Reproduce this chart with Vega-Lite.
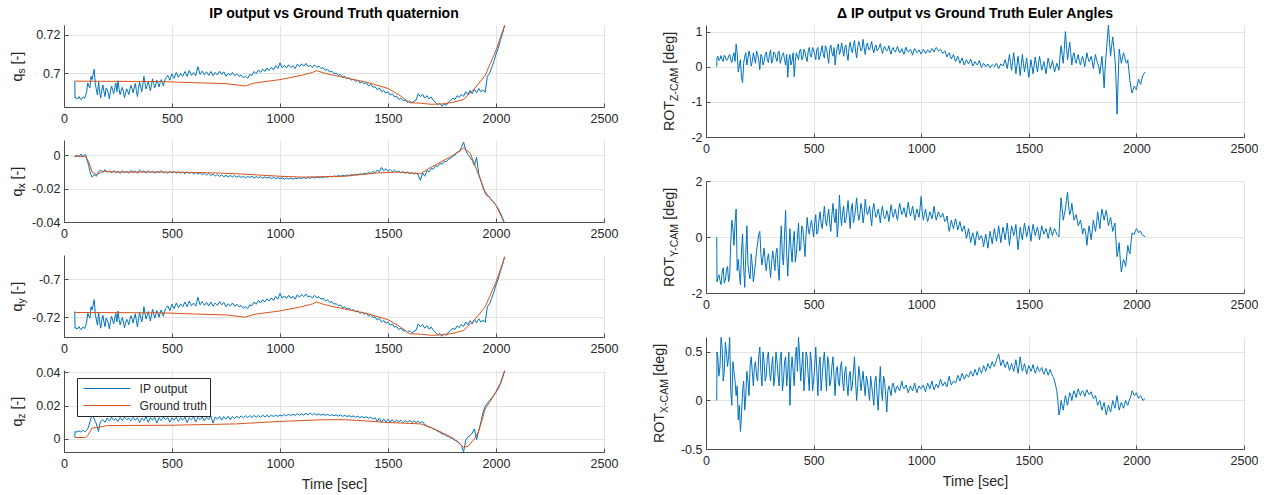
{
"$schema":"https://vega.github.io/schema/vega-lite/v6.json",
"padding":{"left":10,"top":7,"right":0,"bottom":0},
"datasets":{
"ip":[
{"t":50,"s":0.696,"x":-0.0005,"y":-0.717,"z":0.001},
{"t":51,"s":0.6872,"x":-0.001,"y":-0.7258,"z":0.0045},
{"t":60,"s":0.6868,"x":0.0003,"y":-0.7262,"z":0.004},
{"t":70,"s":0.688,"x":-0.0008,"y":-0.725,"z":0.0048},
{"t":80,"s":0.6865,"x":0.0008,"y":-0.7265,"z":0.0042},
{"t":90,"s":0.6878,"x":-0.0002,"y":-0.7252,"z":0.005},
{"t":100,"s":0.6884,"x":0.0005,"y":-0.7246,"z":0.0045},
{"t":110,"s":0.695,"x":-0.004,"y":-0.718,"z":0.006},
{"t":120,"s":0.6925,"x":-0.0095,"y":-0.7205,"z":0.01},
{"t":130,"s":0.6968,"x":-0.013,"y":-0.7162,"z":0.0145},
{"t":140,"s":0.7022,"x":-0.0115,"y":-0.7108,"z":0.012},
{"t":150,"s":0.6915,"x":-0.0125,"y":-0.7215,"z":0.009},
{"t":160,"s":0.6958,"x":-0.0098,"y":-0.7172,"z":0.0045},
{"t":170,"s":0.6872,"x":-0.0088,"y":-0.7258,"z":0.0105},
{"t":180,"s":0.694,"x":-0.0102,"y":-0.719,"z":0.0115},
{"t":190,"s":0.688,"x":-0.0085,"y":-0.725,"z":0.01},
{"t":200,"s":0.6915,"x":-0.01,"y":-0.7215,"z":0.0125},
{"t":210,"s":0.6868,"x":-0.0092,"y":-0.7262,"z":0.0108},
{"t":220,"s":0.6935,"x":-0.0105,"y":-0.7195,"z":0.013},
{"t":230,"s":0.6895,"x":-0.009,"y":-0.7235,"z":0.0112},
{"t":240,"s":0.695,"x":-0.0102,"y":-0.718,"z":0.0122},
{"t":250,"s":0.6962,"x":-0.0095,"y":-0.7168,"z":0.0105},
{"t":260,"s":0.689,"x":-0.0108,"y":-0.724,"z":0.0128},
{"t":270,"s":0.6928,"x":-0.0092,"y":-0.7202,"z":0.011},
{"t":280,"s":0.6875,"x":-0.0103,"y":-0.7255,"z":0.0132},
{"t":290,"s":0.692,"x":-0.0096,"y":-0.721,"z":0.0115},
{"t":300,"s":0.689,"x":-0.0106,"y":-0.724,"z":0.0125},
{"t":310,"s":0.6938,"x":-0.009,"y":-0.7192,"z":0.0108},
{"t":320,"s":0.69,"x":-0.0101,"y":-0.723,"z":0.013},
{"t":330,"s":0.6948,"x":-0.0094,"y":-0.7182,"z":0.0112},
{"t":340,"s":0.688,"x":-0.0107,"y":-0.725,"z":0.0127},
{"t":350,"s":0.6955,"x":-0.0088,"y":-0.7175,"z":0.0098},
{"t":360,"s":0.6905,"x":-0.01,"y":-0.7225,"z":0.0125},
{"t":370,"s":0.6985,"x":-0.0093,"y":-0.7145,"z":0.011},
{"t":380,"s":0.692,"x":-0.0105,"y":-0.721,"z":0.0135},
{"t":390,"s":0.696,"x":-0.0091,"y":-0.717,"z":0.01},
{"t":400,"s":0.691,"x":-0.0102,"y":-0.722,"z":0.0128},
{"t":410,"s":0.6972,"x":-0.0095,"y":-0.7158,"z":0.0112},
{"t":420,"s":0.6925,"x":-0.0107,"y":-0.7205,"z":0.013},
{"t":430,"s":0.6965,"x":-0.0096,"y":-0.7165,"z":0.0095},
{"t":440,"s":0.693,"x":-0.0103,"y":-0.72,"z":0.0127},
{"t":450,"s":0.6968,"x":-0.0092,"y":-0.7162,"z":0.011},
{"t":460,"s":0.6935,"x":-0.0105,"y":-0.7195,"z":0.0132},
{"t":470,"s":0.6975,"x":-0.0098,"y":-0.7155,"z":0.0115},
{"t":480,"s":0.699,"x":-0.0108,"y":-0.714,"z":0.0128},
{"t":490,"s":0.6965,"x":-0.0096,"y":-0.7165,"z":0.01},
{"t":500,"s":0.6998,"x":-0.0104,"y":-0.7132,"z":0.0126},
{"t":510,"s":0.6975,"x":-0.0097,"y":-0.7155,"z":0.0112},
{"t":520,"s":0.7005,"x":-0.0107,"y":-0.7125,"z":0.013},
{"t":530,"s":0.698,"x":-0.0098,"y":-0.715,"z":0.0105},
{"t":540,"s":0.7,"x":-0.0106,"y":-0.713,"z":0.0128},
{"t":550,"s":0.6985,"x":-0.01,"y":-0.7145,"z":0.0114},
{"t":560,"s":0.701,"x":-0.011,"y":-0.712,"z":0.0131},
{"t":570,"s":0.6985,"x":-0.0099,"y":-0.7145,"z":0.0098},
{"t":580,"s":0.7015,"x":-0.0108,"y":-0.7115,"z":0.0127},
{"t":590,"s":0.699,"x":-0.0101,"y":-0.714,"z":0.0115},
{"t":600,"s":0.7005,"x":-0.0112,"y":-0.7125,"z":0.0133},
{"t":610,"s":0.6988,"x":-0.0102,"y":-0.7142,"z":0.0102},
{"t":620,"s":0.7035,"x":-0.0111,"y":-0.7095,"z":0.0129},
{"t":630,"s":0.6995,"x":-0.0104,"y":-0.7135,"z":0.0116},
{"t":640,"s":0.7012,"x":-0.0115,"y":-0.7118,"z":0.0132},
{"t":650,"s":0.6992,"x":-0.0106,"y":-0.7138,"z":0.0108},
{"t":660,"s":0.7008,"x":-0.0118,"y":-0.7122,"z":0.013},
{"t":670,"s":0.699,"x":-0.0108,"y":-0.714,"z":0.0117},
{"t":680,"s":0.701,"x":-0.0121,"y":-0.712,"z":0.0138},
{"t":690,"s":0.6988,"x":-0.0112,"y":-0.7142,"z":0.0095},
{"t":700,"s":0.7005,"x":-0.0124,"y":-0.7125,"z":0.0132},
{"t":710,"s":0.6992,"x":-0.0114,"y":-0.7138,"z":0.0118},
{"t":720,"s":0.7012,"x":-0.0126,"y":-0.7118,"z":0.0135},
{"t":730,"s":0.6995,"x":-0.0117,"y":-0.7135,"z":0.0112},
{"t":740,"s":0.7008,"x":-0.0128,"y":-0.7122,"z":0.0134},
{"t":750,"s":0.6985,"x":-0.0119,"y":-0.7145,"z":0.012},
{"t":760,"s":0.7,"x":-0.013,"y":-0.713,"z":0.0136},
{"t":770,"s":0.699,"x":-0.012,"y":-0.714,"z":0.0115},
{"t":780,"s":0.7005,"x":-0.0129,"y":-0.7125,"z":0.0135},
{"t":790,"s":0.6988,"x":-0.0121,"y":-0.7142,"z":0.0122},
{"t":800,"s":0.6998,"x":-0.0131,"y":-0.7132,"z":0.0137},
{"t":810,"s":0.6985,"x":-0.0122,"y":-0.7145,"z":0.0124},
{"t":820,"s":0.6992,"x":-0.0133,"y":-0.7138,"z":0.0138},
{"t":830,"s":0.6978,"x":-0.0124,"y":-0.7152,"z":0.0126},
{"t":840,"s":0.6985,"x":-0.0135,"y":-0.7145,"z":0.0139},
{"t":850,"s":0.6975,"x":-0.0126,"y":-0.7155,"z":0.0127},
{"t":860,"s":0.6995,"x":-0.0132,"y":-0.7135,"z":0.014},
{"t":870,"s":0.699,"x":-0.0125,"y":-0.714,"z":0.0128},
{"t":880,"s":0.701,"x":-0.0136,"y":-0.712,"z":0.0141},
{"t":890,"s":0.6998,"x":-0.0127,"y":-0.7132,"z":0.013},
{"t":900,"s":0.7018,"x":-0.0134,"y":-0.7112,"z":0.014},
{"t":910,"s":0.7005,"x":-0.0128,"y":-0.7125,"z":0.0131},
{"t":920,"s":0.7022,"x":-0.0137,"y":-0.7108,"z":0.0142},
{"t":930,"s":0.701,"x":-0.0129,"y":-0.712,"z":0.0132},
{"t":940,"s":0.7028,"x":-0.0136,"y":-0.7102,"z":0.0141},
{"t":950,"s":0.7015,"x":-0.013,"y":-0.7115,"z":0.0133},
{"t":960,"s":0.7032,"x":-0.0138,"y":-0.7098,"z":0.0143},
{"t":970,"s":0.7018,"x":-0.0131,"y":-0.7112,"z":0.0134},
{"t":980,"s":0.704,"x":-0.014,"y":-0.709,"z":0.0142},
{"t":990,"s":0.7025,"x":-0.0133,"y":-0.7105,"z":0.0135},
{"t":1000,"s":0.7055,"x":-0.0139,"y":-0.7075,"z":0.0144},
{"t":1010,"s":0.703,"x":-0.0134,"y":-0.71,"z":0.0137},
{"t":1020,"s":0.7042,"x":-0.0142,"y":-0.7088,"z":0.0146},
{"t":1030,"s":0.7028,"x":-0.0135,"y":-0.7102,"z":0.0139},
{"t":1040,"s":0.7045,"x":-0.0141,"y":-0.7085,"z":0.0148},
{"t":1050,"s":0.703,"x":-0.0136,"y":-0.71,"z":0.014},
{"t":1060,"s":0.704,"x":-0.0143,"y":-0.709,"z":0.0149},
{"t":1070,"s":0.7025,"x":-0.0135,"y":-0.7105,"z":0.0141},
{"t":1080,"s":0.7048,"x":-0.014,"y":-0.7082,"z":0.0152},
{"t":1090,"s":0.7035,"x":-0.0134,"y":-0.7095,"z":0.0142},
{"t":1100,"s":0.705,"x":-0.0139,"y":-0.708,"z":0.015},
{"t":1110,"s":0.7038,"x":-0.0133,"y":-0.7092,"z":0.0143},
{"t":1120,"s":0.7052,"x":-0.0138,"y":-0.7078,"z":0.0154},
{"t":1130,"s":0.7036,"x":-0.0132,"y":-0.7094,"z":0.0144},
{"t":1140,"s":0.7042,"x":-0.0137,"y":-0.7088,"z":0.0155},
{"t":1150,"s":0.703,"x":-0.0131,"y":-0.71,"z":0.0145},
{"t":1160,"s":0.7045,"x":-0.0136,"y":-0.7085,"z":0.0152},
{"t":1170,"s":0.7032,"x":-0.013,"y":-0.7098,"z":0.0143},
{"t":1180,"s":0.7038,"x":-0.0134,"y":-0.7092,"z":0.015},
{"t":1190,"s":0.7025,"x":-0.0129,"y":-0.7105,"z":0.0142},
{"t":1200,"s":0.703,"x":-0.0133,"y":-0.71,"z":0.0149},
{"t":1210,"s":0.7015,"x":-0.0127,"y":-0.7115,"z":0.0141},
{"t":1220,"s":0.7022,"x":-0.0131,"y":-0.7108,"z":0.0147},
{"t":1230,"s":0.7008,"x":-0.0125,"y":-0.7122,"z":0.014},
{"t":1240,"s":0.7012,"x":-0.0129,"y":-0.7118,"z":0.0146},
{"t":1250,"s":0.6998,"x":-0.0123,"y":-0.7132,"z":0.0138},
{"t":1260,"s":0.7002,"x":-0.0127,"y":-0.7128,"z":0.0145},
{"t":1270,"s":0.699,"x":-0.0121,"y":-0.714,"z":0.0137},
{"t":1280,"s":0.6995,"x":-0.0125,"y":-0.7135,"z":0.0144},
{"t":1290,"s":0.698,"x":-0.0119,"y":-0.715,"z":0.0135},
{"t":1300,"s":0.6985,"x":-0.0123,"y":-0.7145,"z":0.0142},
{"t":1310,"s":0.6972,"x":-0.0117,"y":-0.7158,"z":0.0134},
{"t":1320,"s":0.6978,"x":-0.0121,"y":-0.7152,"z":0.014},
{"t":1330,"s":0.6965,"x":-0.0115,"y":-0.7165,"z":0.0132},
{"t":1340,"s":0.697,"x":-0.0119,"y":-0.716,"z":0.0138},
{"t":1350,"s":0.6958,"x":-0.0113,"y":-0.7172,"z":0.013},
{"t":1360,"s":0.6965,"x":-0.0116,"y":-0.7165,"z":0.0136},
{"t":1370,"s":0.695,"x":-0.011,"y":-0.718,"z":0.0128},
{"t":1380,"s":0.6958,"x":-0.0114,"y":-0.7172,"z":0.0134},
{"t":1390,"s":0.6945,"x":-0.0107,"y":-0.7185,"z":0.0126},
{"t":1400,"s":0.6952,"x":-0.0111,"y":-0.7178,"z":0.0133},
{"t":1410,"s":0.6935,"x":-0.0102,"y":-0.7195,"z":0.0124},
{"t":1420,"s":0.6945,"x":-0.0108,"y":-0.7185,"z":0.0131},
{"t":1430,"s":0.6928,"x":-0.0095,"y":-0.7202,"z":0.0118},
{"t":1440,"s":0.6932,"x":-0.0104,"y":-0.7198,"z":0.0128},
{"t":1450,"s":0.6915,"x":-0.0088,"y":-0.7215,"z":0.0105},
{"t":1460,"s":0.6925,"x":-0.0098,"y":-0.7205,"z":0.0125},
{"t":1470,"s":0.6905,"x":-0.0072,"y":-0.7225,"z":0.0098},
{"t":1480,"s":0.6912,"x":-0.0092,"y":-0.7218,"z":0.012},
{"t":1490,"s":0.6898,"x":-0.008,"y":-0.7232,"z":0.0102},
{"t":1500,"s":0.6905,"x":-0.0095,"y":-0.7225,"z":0.0118},
{"t":1510,"s":0.6888,"x":-0.0085,"y":-0.7242,"z":0.01},
{"t":1520,"s":0.6895,"x":-0.0098,"y":-0.7235,"z":0.0115},
{"t":1530,"s":0.6878,"x":-0.0088,"y":-0.7252,"z":0.0098},
{"t":1540,"s":0.6882,"x":-0.01,"y":-0.7248,"z":0.0114},
{"t":1550,"s":0.6865,"x":-0.0094,"y":-0.7265,"z":0.0102},
{"t":1560,"s":0.6872,"x":-0.0105,"y":-0.7258,"z":0.0112},
{"t":1570,"s":0.6858,"x":-0.0097,"y":-0.7272,"z":0.0098},
{"t":1580,"s":0.6862,"x":-0.0108,"y":-0.7268,"z":0.011},
{"t":1590,"s":0.685,"x":-0.0099,"y":-0.728,"z":0.0099},
{"t":1600,"s":0.6858,"x":-0.011,"y":-0.7272,"z":0.0112},
{"t":1610,"s":0.6848,"x":-0.0102,"y":-0.7282,"z":0.0097},
{"t":1620,"s":0.6855,"x":-0.0112,"y":-0.7275,"z":0.0108},
{"t":1630,"s":0.6862,"x":-0.0104,"y":-0.7268,"z":0.0098},
{"t":1640,"s":0.6895,"x":-0.0118,"y":-0.7235,"z":0.0106},
{"t":1650,"s":0.688,"x":-0.015,"y":-0.725,"z":0.0096},
{"t":1660,"s":0.6892,"x":-0.0105,"y":-0.7238,"z":0.0104},
{"t":1670,"s":0.6872,"x":-0.0125,"y":-0.7258,"z":0.0085},
{"t":1680,"s":0.6885,"x":-0.0092,"y":-0.7245,"z":0.008},
{"t":1690,"s":0.6868,"x":-0.0098,"y":-0.7262,"z":0.007},
{"t":1700,"s":0.6878,"x":-0.0078,"y":-0.7252,"z":0.0068},
{"t":1710,"s":0.686,"x":-0.0082,"y":-0.727,"z":0.0058},
{"t":1720,"s":0.685,"x":-0.0062,"y":-0.728,"z":0.0055},
{"t":1730,"s":0.6838,"x":-0.0066,"y":-0.7292,"z":0.0045},
{"t":1740,"s":0.6845,"x":-0.0048,"y":-0.7285,"z":0.004},
{"t":1750,"s":0.683,"x":-0.0052,"y":-0.73,"z":0.003},
{"t":1760,"s":0.6842,"x":-0.0035,"y":-0.7288,"z":0.0028},
{"t":1770,"s":0.6835,"x":-0.0038,"y":-0.7295,"z":0.0018},
{"t":1780,"s":0.6852,"x":-0.0022,"y":-0.7278,"z":0.0015},
{"t":1790,"s":0.686,"x":-0.0018,"y":-0.727,"z":0.0005},
{"t":1800,"s":0.6872,"x":-0.0005,"y":-0.7258,"z":0.0002},
{"t":1810,"s":0.6865,"x":0.0002,"y":-0.7265,"z":-0.001},
{"t":1820,"s":0.6885,"x":0.0018,"y":-0.7245,"z":-0.0012},
{"t":1830,"s":0.6875,"x":0.0022,"y":-0.7255,"z":-0.0025},
{"t":1840,"s":0.6892,"x":0.005,"y":-0.7238,"z":-0.004},
{"t":1850,"s":0.6882,"x":0.008,"y":-0.7248,"z":-0.0078},
{"t":1860,"s":0.6905,"x":0.003,"y":-0.7225,"z":-0.001},
{"t":1870,"s":0.689,"x":0.0005,"y":-0.724,"z":0.0012},
{"t":1880,"s":0.6912,"x":-0.0012,"y":-0.7218,"z":0.002},
{"t":1890,"s":0.6895,"x":-0.003,"y":-0.7235,"z":0.0035},
{"t":1900,"s":0.6918,"x":-0.006,"y":-0.7212,"z":0.006},
{"t":1910,"s":0.69,"x":-0.001,"y":-0.723,"z":-0.0005},
{"t":1920,"s":0.6922,"x":-0.011,"y":-0.7208,"z":0.005},
{"t":1930,"s":0.6905,"x":-0.015,"y":-0.7225,"z":0.01},
{"t":1940,"s":0.6915,"x":-0.0195,"y":-0.7215,"z":0.016},
{"t":1950,"s":0.6902,"x":-0.0225,"y":-0.7228,"z":0.0195},
{"t":1960,"s":0.6985,"x":-0.0245,"y":-0.7145,"z":0.0215},
{"t":1970,"s":0.7,"x":-0.025,"y":-0.713,"z":0.023},
{"t":1980,"s":0.703,"x":-0.027,"y":-0.71,"z":0.0245},
{"t":1990,"s":0.706,"x":-0.028,"y":-0.707,"z":0.0262},
{"t":2000,"s":0.71,"x":-0.03,"y":-0.703,"z":0.028},
{"t":2010,"s":0.713,"x":-0.032,"y":-0.7,"z":0.03},
{"t":2020,"s":0.717,"x":-0.0345,"y":-0.696,"z":0.033},
{"t":2030,"s":0.7205,"x":-0.0375,"y":-0.6925,"z":0.0365},
{"t":2040,"s":0.7248,"x":-0.041,"y":-0.6882,"z":0.041},
{"t":55,"s":0.6875,"x":-0.0003,"y":-0.7255,"z":0.0042},
{"t":65,"s":0.6872,"x":-0.0006,"y":-0.7258,"z":0.0046},
{"t":75,"s":0.6868,"x":0.0004,"y":-0.7262,"z":0.0041},
{"t":85,"s":0.6876,"x":-0.0004,"y":-0.7254,"z":0.0049},
{"t":95,"s":0.687,"x":0.0002,"y":-0.726,"z":0.0044},
{"t":105,"s":0.6905,"x":-0.002,"y":-0.7225,"z":0.0052},
{"t":115,"s":0.6935,"x":-0.0065,"y":-0.7195,"z":0.008},
{"t":125,"s":0.6985,"x":-0.0115,"y":-0.7145,"z":0.0125},
{"t":135,"s":0.6995,"x":-0.0125,"y":-0.7135,"z":0.0135},
{"t":145,"s":0.6945,"x":-0.012,"y":-0.7185,"z":0.0105},
{"t":155,"s":0.6888,"x":-0.011,"y":-0.7242,"z":0.0065},
{"t":165,"s":0.6905,"x":-0.0092,"y":-0.7225,"z":0.0085},
{"t":175,"s":0.6915,"x":-0.0095,"y":-0.7215,"z":0.011},
{"t":185,"s":0.6905,"x":-0.0093,"y":-0.7225,"z":0.0108},
{"t":195,"s":0.6925,"x":-0.0094,"y":-0.7205,"z":0.0112},
{"t":205,"s":0.6898,"x":-0.0097,"y":-0.7232,"z":0.0116},
{"t":215,"s":0.6908,"x":-0.0098,"y":-0.7222,"z":0.0118},
{"t":225,"s":0.6915,"x":-0.0097,"y":-0.7215,"z":0.0121},
{"t":235,"s":0.6925,"x":-0.0096,"y":-0.7205,"z":0.0117},
{"t":245,"s":0.6905,"x":-0.0099,"y":-0.7225,"z":0.0113},
{"t":255,"s":0.6918,"x":-0.01,"y":-0.7212,"z":0.0117},
{"t":265,"s":0.6912,"x":-0.01,"y":-0.7218,"z":0.0119},
{"t":275,"s":0.6905,"x":-0.0098,"y":-0.7225,"z":0.012},
{"t":285,"s":0.6898,"x":-0.0099,"y":-0.7232,"z":0.0123},
{"t":295,"s":0.6908,"x":-0.01,"y":-0.7222,"z":0.012},
{"t":305,"s":0.6918,"x":-0.0098,"y":-0.7212,"z":0.0116},
{"t":315,"s":0.6922,"x":-0.0096,"y":-0.7208,"z":0.0119},
{"t":325,"s":0.6925,"x":-0.0097,"y":-0.7205,"z":0.0121},
{"t":335,"s":0.6912,"x":-0.01,"y":-0.7218,"z":0.012},
{"t":345,"s":0.6922,"x":-0.0097,"y":-0.7208,"z":0.0112},
{"t":355,"s":0.693,"x":-0.0094,"y":-0.72,"z":0.0111},
{"t":365,"s":0.694,"x":-0.0096,"y":-0.719,"z":0.0118},
{"t":375,"s":0.6948,"x":-0.0099,"y":-0.7182,"z":0.0122},
{"t":385,"s":0.6938,"x":-0.0098,"y":-0.7192,"z":0.0117},
{"t":395,"s":0.6935,"x":-0.0096,"y":-0.7195,"z":0.0114},
{"t":405,"s":0.6942,"x":-0.0098,"y":-0.7188,"z":0.012},
{"t":415,"s":0.6948,"x":-0.01,"y":-0.7182,"z":0.0121},
{"t":425,"s":0.6945,"x":-0.0101,"y":-0.7185,"z":0.0112},
{"t":435,"s":0.6948,"x":-0.01,"y":-0.7182,"z":0.0111},
{"t":445,"s":0.6952,"x":-0.0097,"y":-0.7178,"z":0.0118},
{"t":455,"s":0.6952,"x":-0.0098,"y":-0.7178,"z":0.0121},
{"t":465,"s":0.6958,"x":-0.0101,"y":-0.7172,"z":0.0123},
{"t":475,"s":0.698,"x":-0.0103,"y":-0.715,"z":0.0121},
{"t":485,"s":0.6978,"x":-0.0102,"y":-0.7152,"z":0.0114},
{"t":495,"s":0.6982,"x":-0.01,"y":-0.7148,"z":0.0113},
{"t":505,"s":0.6985,"x":-0.01,"y":-0.7145,"z":0.0119},
{"t":515,"s":0.699,"x":-0.0102,"y":-0.714,"z":0.0121},
{"t":525,"s":0.6992,"x":-0.0102,"y":-0.7138,"z":0.0117},
{"t":535,"s":0.699,"x":-0.0102,"y":-0.714,"z":0.0116},
{"t":545,"s":0.6992,"x":-0.0103,"y":-0.7138,"z":0.0121},
{"t":555,"s":0.6998,"x":-0.0105,"y":-0.7132,"z":0.0122},
{"t":565,"s":0.6998,"x":-0.0104,"y":-0.7132,"z":0.0114},
{"t":575,"s":0.7,"x":-0.0103,"y":-0.713,"z":0.0112},
{"t":585,"s":0.7002,"x":-0.0104,"y":-0.7128,"z":0.0121},
{"t":595,"s":0.6998,"x":-0.0106,"y":-0.7132,"z":0.0124},
{"t":605,"s":0.6996,"x":-0.0107,"y":-0.7134,"z":0.0117},
{"t":615,"s":0.7012,"x":-0.0106,"y":-0.7118,"z":0.0115},
{"t":625,"s":0.7015,"x":-0.0107,"y":-0.7115,"z":0.0122},
{"t":635,"s":0.7004,"x":-0.011,"y":-0.7126,"z":0.0124},
{"t":645,"s":0.7002,"x":-0.011,"y":-0.7128,"z":0.012},
{"t":655,"s":0.7,"x":-0.0112,"y":-0.713,"z":0.0119},
{"t":665,"s":0.6999,"x":-0.0113,"y":-0.7131,"z":0.0123},
{"t":675,"s":0.7,"x":-0.0115,"y":-0.713,"z":0.0127},
{"t":685,"s":0.6999,"x":-0.0116,"y":-0.7131,"z":0.0116},
{"t":695,"s":0.6996,"x":-0.0118,"y":-0.7134,"z":0.0113},
{"t":705,"s":0.6998,"x":-0.0119,"y":-0.7132,"z":0.0125}
],
"gs":[{"t":50,"v":0.696},{"t":450,"v":0.6958},{"t":600,"v":0.6952},{"t":750,"v":0.6947},{"t":840,"v":0.6935},{"t":880,"v":0.695},{"t":1000,"v":0.6968},{"t":1100,"v":0.699},{"t":1150,"v":0.7005},{"t":1170,"v":0.7015},{"t":1200,"v":0.7003},{"t":1250,"v":0.699},{"t":1300,"v":0.6978},{"t":1400,"v":0.6955},{"t":1500,"v":0.6922},{"t":1550,"v":0.689},{"t":1600,"v":0.6848},{"t":1650,"v":0.6846},{"t":1700,"v":0.684},{"t":1750,"v":0.6842},{"t":1800,"v":0.685},{"t":1850,"v":0.6865},{"t":1900,"v":0.692},{"t":1950,"v":0.699},{"t":2000,"v":0.712},{"t":2040,"v":0.725}],
"gx":[{"t":50,"v":-0.0005},{"t":100,"v":-0.0005},{"t":115,"v":-0.004},{"t":130,"v":-0.01},{"t":150,"v":-0.0115},{"t":180,"v":-0.0095},{"t":250,"v":-0.01},{"t":500,"v":-0.01},{"t":700,"v":-0.0105},{"t":800,"v":-0.011},{"t":1000,"v":-0.0125},{"t":1100,"v":-0.013},{"t":1300,"v":-0.0125},{"t":1450,"v":-0.0105},{"t":1550,"v":-0.01},{"t":1650,"v":-0.011},{"t":1700,"v":-0.007},{"t":1800,"v":0},{"t":1850,"v":0.0045},{"t":1880,"v":0.0015},{"t":1900,"v":-0.005},{"t":1920,"v":-0.012},{"t":1950,"v":-0.022},{"t":2000,"v":-0.03},{"t":2040,"v":-0.041}],
"gy":[{"t":50,"v":-0.7175},{"t":450,"v":-0.7177},{"t":600,"v":-0.7183},{"t":750,"v":-0.7188},{"t":840,"v":-0.72},{"t":880,"v":-0.7185},{"t":1000,"v":-0.7167},{"t":1100,"v":-0.7145},{"t":1150,"v":-0.713},{"t":1170,"v":-0.712},{"t":1200,"v":-0.7132},{"t":1250,"v":-0.7145},{"t":1300,"v":-0.7157},{"t":1400,"v":-0.718},{"t":1500,"v":-0.7213},{"t":1550,"v":-0.7245},{"t":1600,"v":-0.7287},{"t":1650,"v":-0.7289},{"t":1700,"v":-0.7295},{"t":1750,"v":-0.7293},{"t":1800,"v":-0.7285},{"t":1850,"v":-0.727},{"t":1900,"v":-0.7215},{"t":1950,"v":-0.7145},{"t":2000,"v":-0.7015},{"t":2040,"v":-0.6885}],
"gz":[{"t":50,"v":0.0008},{"t":100,"v":0.0008},{"t":110,"v":0.002},{"t":130,"v":0.0065},{"t":150,"v":0.0068},{"t":170,"v":0.0072},{"t":200,"v":0.008},{"t":500,"v":0.0082},{"t":800,"v":0.009},{"t":1000,"v":0.0105},{"t":1200,"v":0.0115},{"t":1300,"v":0.0115},{"t":1400,"v":0.0108},{"t":1500,"v":0.0098},{"t":1600,"v":0.0093},{"t":1650,"v":0.009},{"t":1700,"v":0.0068},{"t":1750,"v":0.0038},{"t":1800,"v":0.0005},{"t":1850,"v":-0.005},{"t":1870,"v":-0.0045},{"t":1900,"v":0},{"t":1920,"v":0.0045},{"t":1950,"v":0.018},{"t":1980,"v":0.024},{"t":2000,"v":0.0285},{"t":2020,"v":0.0335},{"t":2040,"v":0.041}],
"eu":[
{"t":50,"z":0,"y":0,"x":0},{"t":51,"z":0.25,"y":-1.6,"x":0.5},{"t":60,"z":0.18,"y":-1.35,"x":0.25},{"t":70,"z":0.32,"y":-1.7,"x":0.65},{"t":80,"z":0.15,"y":-1.1,"x":0.2},{"t":90,"z":0.28,"y":-1.55,"x":0.6},{"t":100,"z":0.2,"y":-1.05,"x":0.35},{"t":110,"z":0.35,"y":-1.4,"x":0.65},{"t":120,"z":0.12,"y":0.6,"x":-0.05},{"t":130,"z":0.4,"y":-0.3,"x":0.3},{"t":140,"z":0.65,"y":1.0,"x":0.05},{"t":150,"z":-0.15,"y":-0.8,"x":-0.2},{"t":160,"z":0.2,"y":-1.7,"x":-0.32},{"t":170,"z":-0.45,"y":0.1,"x":0.1},{"t":180,"z":0.3,"y":-1.8,"x":-0.1},{"t":190,"z":0.05,"y":0.4,"x":0.3},{"t":200,"z":0.45,"y":-1.3,"x":0.05},{"t":210,"z":0.02,"y":-0.6,"x":0.45},{"t":220,"z":0.4,"y":-1.6,"x":0.15},{"t":230,"z":0.1,"y":-0.9,"x":0.4},{"t":240,"z":0.35,"y":-0.2,"x":0.2},{"t":250,"z":-0.08,"y":0.2,"x":0.55},{"t":260,"z":0.3,"y":-1.0,"x":0.15},{"t":270,"z":0.15,"y":-0.4,"x":0.4},{"t":280,"z":0.42,"y":-1.2,"x":0.25},{"t":290,"z":0.12,"y":-0.6,"x":0.5},{"t":300,"z":0.48,"y":-1.45,"x":0.2},{"t":310,"z":0.2,"y":-0.5,"x":0.45},{"t":320,"z":0.38,"y":-1.2,"x":0.25},{"t":330,"z":0.15,"y":-0.4,"x":0.4},{"t":340,"z":0.45,"y":-1.55,"x":0.15},{"t":350,"z":0.22,"y":0.4,"x":0.5},{"t":360,"z":0.4,"y":-1.0,"x":0.2},{"t":370,"z":0.05,"y":0.95,"x":0.45},{"t":380,"z":-0.3,"y":-1.4,"x":0.3},{"t":390,"z":0.35,"y":0.3,"x":-0.05},{"t":400,"z":0.18,"y":-0.9,"x":0.45},{"t":410,"z":-0.28,"y":0.2,"x":0.15},{"t":420,"z":0.4,"y":-0.6,"x":0.55},{"t":430,"z":0.2,"y":0.5,"x":0.65},{"t":440,"z":0.5,"y":-0.4,"x":0.2},{"t":450,"z":0.25,"y":0.3,"x":0.5},{"t":460,"z":0.42,"y":-0.7,"x":0.25},{"t":470,"z":0.15,"y":0.7,"x":0.45},{"t":480,"z":0.55,"y":0.1,"x":0.1},{"t":490,"z":0.28,"y":0.6,"x":0.4},{"t":500,"z":0.48,"y":0,"x":0.2},{"t":510,"z":0.2,"y":0.8,"x":0.55},{"t":520,"z":0.55,"y":0.2,"x":0.05},{"t":530,"z":0.3,"y":0.9,"x":0.45},{"t":540,"z":0.6,"y":0.3,"x":0.25},{"t":550,"z":0.25,"y":1.1,"x":0.5},{"t":560,"z":0.52,"y":0.4,"x":0.1},{"t":570,"z":0.1,"y":1.0,"x":0.4},{"t":580,"z":0.62,"y":0.2,"x":0.2},{"t":590,"z":0.3,"y":1.2,"x":0.45},{"t":600,"z":0.05,"y":0.5,"x":0.05},{"t":610,"z":0.55,"y":0,"x":0.35},{"t":620,"z":0.35,"y":1.5,"x":0.15},{"t":630,"z":0.68,"y":0.4,"x":0.4},{"t":640,"z":0.3,"y":1.1,"x":0.1},{"t":650,"z":0.62,"y":0.6,"x":0.35},{"t":660,"z":0.18,"y":1.3,"x":0.05},{"t":670,"z":0.7,"y":0.3,"x":0.3},{"t":680,"z":0.4,"y":1.2,"x":0.15},{"t":690,"z":0.75,"y":0.7,"x":0.45},{"t":700,"z":0.25,"y":1.4,"x":0},{"t":710,"z":0.72,"y":0.6,"x":0.35},{"t":720,"z":0.45,"y":1.2,"x":0.1},{"t":730,"z":0.78,"y":0.5,"x":0.3},{"t":740,"z":0.35,"y":1.35,"x":0.05},{"t":750,"z":0.68,"y":0.8,"x":0.2},{"t":760,"z":0.48,"y":1.1,"x":0},{"t":770,"z":0.72,"y":0.4,"x":0.15},{"t":780,"z":0.4,"y":1.2,"x":-0.05},{"t":790,"z":0.62,"y":0.7,"x":0.25},{"t":800,"z":0.5,"y":1.0,"x":-0.1},{"t":810,"z":0.66,"y":0.5,"x":0.35},{"t":820,"z":0.38,"y":1.1,"x":0},{"t":830,"z":0.58,"y":0.65,"x":0.2},{"t":840,"z":0.45,"y":0.95,"x":-0.12},{"t":850,"z":0.6,"y":0.55,"x":0.15},{"t":860,"z":0.36,"y":1.15,"x":0.05},{"t":870,"z":0.55,"y":0.7,"x":0.18},{"t":880,"z":0.42,"y":1.0,"x":0.08},{"t":890,"z":0.58,"y":0.6,"x":0.15},{"t":900,"z":0.4,"y":1.2,"x":0.1},{"t":910,"z":0.52,"y":0.8,"x":0.2},{"t":920,"z":0.35,"y":1.05,"x":0.12},{"t":930,"z":0.56,"y":0.7,"x":0.16},{"t":940,"z":0.42,"y":1.25,"x":0.08},{"t":950,"z":0.5,"y":0.75,"x":0.15},{"t":960,"z":0.33,"y":1.1,"x":0.1},{"t":970,"z":0.52,"y":0.6,"x":0.18},{"t":980,"z":0.4,"y":1.0,"x":0.08},{"t":990,"z":0.48,"y":0.7,"x":0.15},{"t":1000,"z":0.36,"y":1.45,"x":0.12},{"t":1010,"z":0.5,"y":0.6,"x":0.16},{"t":1020,"z":0.38,"y":1.0,"x":0.09},{"t":1030,"z":0.48,"y":0.55,"x":0.18},{"t":1040,"z":0.4,"y":0.9,"x":0.12},{"t":1050,"z":0.52,"y":0.65,"x":0.2},{"t":1060,"z":0.42,"y":1.1,"x":0.11},{"t":1070,"z":0.55,"y":0.6,"x":0.17},{"t":1080,"z":0.45,"y":0.9,"x":0.13},{"t":1090,"z":0.5,"y":0.7,"x":0.22},{"t":1100,"z":0.38,"y":0.85,"x":0.15},{"t":1110,"z":0.45,"y":0.55,"x":0.19},{"t":1120,"z":0.28,"y":0.75,"x":0.14},{"t":1130,"z":0.4,"y":0.2,"x":0.25},{"t":1140,"z":0.22,"y":0.6,"x":0.16},{"t":1150,"z":0.35,"y":0.3,"x":0.2},{"t":1160,"z":0.15,"y":0.65,"x":0.18},{"t":1170,"z":0.3,"y":0.25,"x":0.26},{"t":1180,"z":0.1,"y":0.55,"x":0.2},{"t":1190,"z":0.25,"y":0.2,"x":0.28},{"t":1200,"z":0.05,"y":0.4,"x":0.22},{"t":1210,"z":0.2,"y":-0.05,"x":0.27},{"t":1220,"z":0.08,"y":0.3,"x":0.24},{"t":1230,"z":0.22,"y":-0.2,"x":0.3},{"t":1240,"z":0.02,"y":0.15,"x":0.25},{"t":1250,"z":0.15,"y":-0.3,"x":0.32},{"t":1260,"z":0.05,"y":0.2,"x":0.26},{"t":1270,"z":0.18,"y":-0.1,"x":0.34},{"t":1280,"z":-0.02,"y":0.05,"x":0.28},{"t":1290,"z":0.1,"y":-0.35,"x":0.36},{"t":1300,"z":0,"y":0.1,"x":0.3},{"t":1310,"z":0.08,"y":-0.4,"x":0.38},{"t":1320,"z":-0.03,"y":0.2,"x":0.33},{"t":1330,"z":0.06,"y":-0.25,"x":0.4},{"t":1340,"z":0,"y":0.3,"x":0.35},{"t":1350,"z":0.1,"y":-0.15,"x":0.42},{"t":1360,"z":-0.05,"y":0.4,"x":0.48},{"t":1370,"z":0.08,"y":-0.2,"x":0.36},{"t":1380,"z":0.02,"y":0.35,"x":0.42},{"t":1390,"z":0.2,"y":-0.1,"x":0.34},{"t":1400,"z":-0.05,"y":0.5,"x":0.4},{"t":1410,"z":0.35,"y":-0.3,"x":0.31},{"t":1420,"z":-0.1,"y":0.4,"x":0.38},{"t":1430,"z":0.4,"y":0.05,"x":0.3},{"t":1440,"z":-0.2,"y":0.45,"x":0.42},{"t":1450,"z":0.3,"y":-0.45,"x":0.28},{"t":1460,"z":-0.25,"y":0.35,"x":0.45},{"t":1470,"z":0.35,"y":-0.1,"x":0.3},{"t":1480,"z":-0.15,"y":0.5,"x":0.38},{"t":1490,"z":0.25,"y":0,"x":0.27},{"t":1500,"z":-0.3,"y":0.4,"x":0.36},{"t":1510,"z":0.2,"y":-0.15,"x":0.3},{"t":1520,"z":-0.2,"y":0.45,"x":0.37},{"t":1530,"z":0.28,"y":0.05,"x":0.28},{"t":1540,"z":-0.15,"y":0.35,"x":0.35},{"t":1550,"z":0.3,"y":-0.1,"x":0.3},{"t":1560,"z":-0.1,"y":0.4,"x":0.34},{"t":1570,"z":0.15,"y":0.1,"x":0.27},{"t":1580,"z":-0.2,"y":0.3,"x":0.33},{"t":1590,"z":0.25,"y":-0.05,"x":0.26},{"t":1600,"z":-0.05,"y":0.35,"x":0.32},{"t":1610,"z":0.18,"y":0.05,"x":0.25},{"t":1620,"z":-0.15,"y":0.3,"x":0.2},{"t":1630,"z":0.1,"y":0.1,"x":0.1},{"t":1640,"z":-0.1,"y":0,"x":-0.15},{"t":1650,"z":0.6,"y":1.4,"x":0},{"t":1660,"z":0.1,"y":0.6,"x":-0.1},{"t":1670,"z":1.0,"y":1.0,"x":0.05},{"t":1680,"z":0.2,"y":1.6,"x":-0.05},{"t":1690,"z":0.7,"y":0.8,"x":0.08},{"t":1700,"z":0.05,"y":1.2,"x":0},{"t":1710,"z":0.4,"y":0.6,"x":0.1},{"t":1720,"z":0.1,"y":0.8,"x":0.03},{"t":1730,"z":0.35,"y":0.4,"x":0.12},{"t":1740,"z":0.05,"y":0.6,"x":0.05},{"t":1750,"z":0.3,"y":0.1,"x":0.1},{"t":1760,"z":0,"y":0.3,"x":0.04},{"t":1770,"z":0.4,"y":-0.3,"x":0.11},{"t":1780,"z":0.15,"y":0.4,"x":0.06},{"t":1790,"z":0.3,"y":-0.1,"x":0.09},{"t":1800,"z":-0.05,"y":0.6,"x":0.02},{"t":1810,"z":0.35,"y":0.2,"x":0.05},{"t":1820,"z":0.1,"y":0.9,"x":-0.05},{"t":1830,"z":-0.2,"y":0.3,"x":0},{"t":1840,"z":0.3,"y":1.0,"x":-0.1},{"t":1850,"z":-0.6,"y":0.6,"x":-0.02},{"t":1860,"z":0.4,"y":0.95,"x":-0.15},{"t":1870,"z":1.2,"y":0.4,"x":-0.05},{"t":1880,"z":0.3,"y":0.7,"x":-0.12},{"t":1890,"z":0.85,"y":0.2,"x":0},{"t":1900,"z":0.25,"y":0.5,"x":-0.08},{"t":1910,"z":-1.35,"y":-0.7,"x":0.05},{"t":1920,"z":0.5,"y":-0.2,"x":-0.1},{"t":1930,"z":0.1,"y":-1.25,"x":-0.02},{"t":1940,"z":0.4,"y":-0.8,"x":-0.08},{"t":1950,"z":0.15,"y":-1.05,"x":0},{"t":1960,"z":0.2,"y":-0.3,"x":-0.05},{"t":1970,"z":-0.4,"y":-0.6,"x":0.02},{"t":1980,"z":-0.75,"y":0.15,"x":0.1},{"t":1990,"z":-0.55,"y":0.1,"x":0.05},{"t":2000,"z":-0.65,"y":0.3,"x":0.08},{"t":2010,"z":-0.35,"y":0.15,"x":0.02},{"t":2020,"z":-0.5,"y":0.2,"x":0.05},{"t":2030,"z":-0.25,"y":0.05,"x":0},{"t":2040,"z":-0.15,"y":0,"x":0.02},
{"t":55,"z":0.3,"y":-1.45,"x":0.45},{"t":65,"z":0.22,"y":-1.55,"x":0.35},{"t":75,"z":0.2,"y":-1.25,"x":0.55},{"t":85,"z":0.33,"y":-1.65,"x":0.3},{"t":95,"z":0.18,"y":-1.2,"x":0.5},{"t":105,"z":0.3,"y":-1.6,"x":0.45},{"t":115,"z":0.2,"y":-0.2,"x":0.1},{"t":125,"z":0.3,"y":0.3,"x":0.4},{"t":135,"z":0.15,"y":0.5,"x":0.2},{"t":145,"z":0.4,"y":-1.2,"x":0.15},{"t":155,"z":0.05,"y":-1.3,"x":-0.05},{"t":165,"z":-0.3,"y":-0.5,"x":-0.15},{"t":175,"z":0.1,"y":-1.1,"x":0.2},{"t":185,"z":0.4,"y":-0.6,"x":0.05},{"t":195,"z":0.25,"y":-1.0,"x":0.2},{"t":205,"z":0.3,"y":-1.5,"x":0.35},{"t":215,"z":0.15,"y":-1.0,"x":0.3},{"t":225,"z":0.25,"y":-1.3,"x":0.35},{"t":235,"z":0.45,"y":-0.5,"x":0.25},{"t":245,"z":0.2,"y":0.1,"x":0.45},{"t":255,"z":0.35,"y":-0.6,"x":0.3},{"t":265,"z":0.05,"y":-0.7,"x":0.5},{"t":275,"z":0.35,"y":-0.9,"x":0.2},{"t":285,"z":0.2,"y":-0.8,"x":0.45},{"t":295,"z":0.35,"y":-1.0,"x":0.3},{"t":305,"z":0.1,"y":-0.9,"x":0.35},{"t":315,"z":0.42,"y":-0.8,"x":0.15},{"t":325,"z":0.25,"y":-0.6,"x":0.5},{"t":335,"z":0.4,"y":-1.1,"x":0.25},{"t":345,"z":0.1,"y":-0.3,"x":0.45},{"t":355,"z":0.35,"y":-0.7,"x":0.1},{"t":365,"z":0.2,"y":0.1,"x":0.4},{"t":375,"z":0.35,"y":-0.6,"x":0.15},{"t":385,"z":0.2,"y":-0.5,"x":0.5},{"t":395,"z":0.05,"y":-0.4,"x":0.3},{"t":405,"z":0.4,"y":-0.2,"x":0.3},{"t":415,"z":0.15,"y":-0.9,"x":0.45},{"t":425,"z":0.3,"y":0,"x":0.3},{"t":435,"z":0.45,"y":-0.5,"x":0.45},{"t":445,"z":0.2,"y":0.4,"x":0.35},{"t":455,"z":0.5,"y":-0.2,"x":0.1},{"t":465,"z":0.25,"y":0.1,"x":0.5},{"t":475,"z":0.45,"y":0.3,"x":0.25},{"t":485,"z":0.3,"y":0.4,"x":0.5},{"t":495,"z":0.55,"y":0.3,"x":0.1},{"t":505,"z":0.35,"y":0.5,"x":0.35},{"t":515,"z":0.5,"y":0.1,"x":0.3},{"t":525,"z":0.2,"y":0.6,"x":0.35},{"t":535,"z":0.45,"y":0.5,"x":0.1},{"t":545,"z":0.35,"y":0.7,"x":0.4},{"t":555,"z":0.6,"y":0.6,"x":0.3},{"t":565,"z":0.3,"y":0.7,"x":0.45},{"t":575,"z":0.5,"y":0.5,"x":0.15},{"t":585,"z":0.4,"y":0.8,"x":0.35},{"t":595,"z":0.55,"y":0.7,"x":0.25},{"t":605,"z":0.35,"y":1.0,"x":0.3},{"t":615,"z":0.65,"y":0.5,"x":0.2},{"t":625,"z":0.45,"y":0.8,"x":0.35},{"t":635,"z":0.5,"y":0.9,"x":0.2},{"t":645,"z":0.55,"y":0.5,"x":0.3},{"t":655,"z":0.35,"y":0.9,"x":0.15},{"t":665,"z":0.55,"y":0.8,"x":0.25},{"t":675,"z":0.5,"y":1.0,"x":0.1},{"t":685,"z":0.6,"y":0.5,"x":0.3},{"t":695,"z":0.45,"y":1.0,"x":0.2},{"t":705,"z":0.55,"y":0.9,"x":0.15},{"t":715,"z":0.6,"y":0.8,"x":0.25},{"t":725,"z":0.5,"y":1.0,"x":0.2},{"t":735,"z":0.55,"y":0.8,"x":0.15},{"t":745,"z":0.6,"y":1.0,"x":0.25},{"t":755,"z":0.5,"y":0.9,"x":0.1},{"t":765,"z":0.6,"y":0.7,"x":0.25},{"t":775,"z":0.5,"y":1.0,"x":0.05},{"t":785,"z":0.55,"y":0.9,"x":0.2},{"t":795,"z":0.45,"y":0.8,"x":0.05},{"t":805,"z":0.55,"y":0.8,"x":0.15},{"t":815,"z":0.5,"y":0.9,"x":0.1},{"t":825,"z":0.5,"y":0.8,"x":0.25},{"t":835,"z":0.5,"y":0.7,"x":0.05},{"t":845,"z":0.5,"y":0.8,"x":0.1},{"t":855,"z":0.45,"y":0.85,"x":0.1},{"t":865,"z":0.5,"y":0.9,"x":0.15},{"t":875,"z":0.45,"y":0.85,"x":0.12},{"t":885,"z":0.5,"y":0.75,"x":0.14},{"t":895,"z":0.48,"y":0.95,"x":0.12},{"t":905,"z":0.45,"y":1.0,"x":0.15},{"t":915,"z":0.42,"y":0.9,"x":0.14},{"t":925,"z":0.48,"y":0.85,"x":0.14},{"t":935,"z":0.45,"y":1.0,"x":0.12},{"t":945,"z":0.46,"y":0.95,"x":0.12},{"t":955,"z":0.42,"y":0.9,"x":0.12},{"t":965,"z":0.45,"y":0.85,"x":0.14},{"t":975,"z":0.45,"y":0.8,"x":0.12},{"t":985,"z":0.44,"y":0.85,"x":0.12},{"t":995,"z":0.42,"y":1.05,"x":0.13},{"t":1005,"z":0.44,"y":0.9,"x":0.14},{"t":1015,"z":0.45,"y":0.8,"x":0.12},{"t":1025,"z":0.42,"y":0.75,"x":0.14},{"t":1035,"z":0.45,"y":0.7,"x":0.15},{"t":1045,"z":0.46,"y":0.8,"x":0.16},{"t":1055,"z":0.48,"y":0.85,"x":0.15},{"t":1065,"z":0.5,"y":0.8,"x":0.14},{"t":1075,"z":0.5,"y":0.75,"x":0.15},{"t":1085,"z":0.47,"y":0.8,"x":0.18},{"t":1095,"z":0.44,"y":0.75,"x":0.18},{"t":1105,"z":0.42,"y":0.7,"x":0.17},{"t":1115,"z":0.36,"y":0.6,"x":0.16},{"t":1125,"z":0.35,"y":0.45,"x":0.2},{"t":1135,"z":0.3,"y":0.4,"x":0.2},{"t":1145,"z":0.28,"y":0.45,"x":0.18},{"t":1155,"z":0.25,"y":0.5,"x":0.19},{"t":1165,"z":0.22,"y":0.45,"x":0.22},{"t":1175,"z":0.2,"y":0.4,"x":0.23},{"t":1185,"z":0.18,"y":0.35,"x":0.24},{"t":1195,"z":0.15,"y":0.3,"x":0.25},{"t":1205,"z":0.12,"y":0.2,"x":0.24},{"t":1215,"z":0.14,"y":0.1,"x":0.26},{"t":1225,"z":0.15,"y":0.05,"x":0.27},{"t":1235,"z":0.12,"y":0,"x":0.28},{"t":1245,"z":0.08,"y":-0.05,"x":0.28},{"t":1255,"z":0.1,"y":0,"x":0.29},{"t":1265,"z":0.1,"y":0.05,"x":0.3},{"t":1275,"z":0.08,"y":0,"x":0.31},{"t":1285,"z":0.04,"y":-0.1,"x":0.32},{"t":1295,"z":0.05,"y":-0.1,"x":0.33},{"t":1305,"z":0.04,"y":-0.15,"x":0.34},{"t":1315,"z":0.02,"y":-0.1,"x":0.35},{"t":1325,"z":0.02,"y":0,"x":0.36},{"t":1335,"z":0.03,"y":0.05,"x":0.37},{"t":1345,"z":0.05,"y":0.05,"x":0.38},{"t":1355,"z":0.02,"y":0.1,"x":0.45},{"t":1365,"z":0.02,"y":0.1,"x":0.42},{"t":1375,"z":0.05,"y":0.1,"x":0.39},{"t":1385,"z":0.1,"y":0.15,"x":0.38},{"t":1395,"z":0.08,"y":0.2,"x":0.37},{"t":1405,"z":0.15,"y":0.1,"x":0.36},{"t":1415,"z":0.12,"y":0.05,"x":0.35},{"t":1425,"z":0.15,"y":0.25,"x":0.34},{"t":1435,"z":0.1,"y":0.2,"x":0.36},{"t":1445,"z":0.05,"y":0,"x":0.35},{"t":1455,"z":0.05,"y":-0.05,"x":0.36},{"t":1465,"z":0.05,"y":0.1,"x":0.37},{"t":1475,"z":0.1,"y":0.2,"x":0.34},{"t":1485,"z":0.05,"y":0.25,"x":0.33},{"t":1495,"z":-0.05,"y":0.2,"x":0.32},{"t":1505,"z":-0.05,"y":0.15,"x":0.33},{"t":1515,"z":0,"y":0.2,"x":0.33},{"t":1525,"z":0.05,"y":0.25,"x":0.32},{"t":1535,"z":0.05,"y":0.2,"x":0.31},{"t":1545,"z":0.08,"y":0.15,"x":0.32},{"t":1555,"z":0.1,"y":0.15,"x":0.32},{"t":1565,"z":0.02,"y":0.25,"x":0.3},{"t":1575,"z":-0.02,"y":0.2,"x":0.3},{"t":1585,"z":0.02,"y":0.15,"x":0.3},{"t":1595,"z":0.1,"y":0.15,"x":0.29},{"t":1605,"z":0.05,"y":0.2,"x":0.28},{"t":1615,"z":0,"y":0.2,"x":0.24},{"t":1625,"z":-0.02,"y":0.2,"x":0.15},{"t":1635,"z":0,"y":0.05,"x":0},{"t":1645,"z":0.3,"y":0.8,"x":-0.1},{"t":1655,"z":0.35,"y":1.0,"x":-0.05},{"t":1665,"z":0.5,"y":0.8,"x":-0.02},{"t":1675,"z":0.6,"y":1.3,"x":0},{"t":1685,"z":0.45,"y":1.1,"x":0.02},{"t":1695,"z":0.4,"y":0.9,"x":0.05},{"t":1705,"z":0.3,"y":0.9,"x":0.06},{"t":1715,"z":0.2,"y":0.7,"x":0.07},{"t":1725,"z":0.25,"y":0.6,"x":0.08},{"t":1735,"z":0.15,"y":0.5,"x":0.08},{"t":1745,"z":0.2,"y":0.4,"x":0.09},{"t":1755,"z":0.15,"y":0.3,"x":0.08},{"t":1765,"z":0.2,"y":0.1,"x":0.08},{"t":1775,"z":0.25,"y":0.1,"x":0.08},{"t":1785,"z":0.2,"y":0.15,"x":0.07},{"t":1795,"z":0.15,"y":0.25,"x":0.05},{"t":1805,"z":0.15,"y":0.4,"x":0.03},{"t":1815,"z":0.2,"y":0.5,"x":0},{"t":1825,"z":0,"y":0.6,"x":-0.02},{"t":1835,"z":0.05,"y":0.7,"x":-0.05},{"t":1845,"z":-0.1,"y":0.8,"x":-0.06},{"t":1855,"z":0,"y":0.8,"x":-0.08},{"t":1865,"z":0.8,"y":0.7,"x":-0.1},{"t":1875,"z":0.7,"y":0.55,"x":-0.08},{"t":1885,"z":0.6,"y":0.45,"x":-0.06},{"t":1895,"z":0.55,"y":0.35,"x":-0.04},{"t":1905,"z":-0.3,"y":-0.1,"x":-0.02},{"t":1915,"z":-0.4,"y":-0.5,"x":-0.03},{"t":1925,"z":0.3,"y":-0.8,"x":-0.06},{"t":1935,"z":0.25,"y":-1.0,"x":-0.05},{"t":1945,"z":0.3,"y":-0.9,"x":-0.04},{"t":1955,"z":0.1,"y":-0.7,"x":-0.03},{"t":1965,"z":-0.1,"y":-0.5,"x":-0.01},{"t":1975,"z":-0.6,"y":-0.2,"x":0.05},{"t":1985,"z":-0.65,"y":0.1,"x":0.08},{"t":1995,"z":-0.6,"y":0.2,"x":0.06},{"t":2005,"z":-0.5,"y":0.25,"x":0.05},{"t":2015,"z":-0.45,"y":0.2,"x":0.04},{"t":2025,"z":-0.35,"y":0.1,"x":0.03},{"t":2035,"z":-0.2,"y":0.05,"x":0.01}
]
},
"hconcat":[
{"vconcat":[
{"width":540,"height":82,
 "title":{"text":"IP output vs Ground Truth quaternion"},
 "layer":[
  {"data":{"name":"ip"},"mark":{"type":"line","color":"#0072BD","strokeWidth":1,"clip":true},
   "encoding":{"x":{"field":"t","type":"quantitative","scale":{"domain":[0,2500],"nice":false},"axis":{"values":[0,500,1000,1500,2000,2500],"format":"d","title":null}},
    "y":{"field":"s","type":"quantitative","scale":{"domain":[0.6826,0.7251],"nice":false,"zero":false},"axis":{"orient":"left","values":[0.7,0.72],"format":"~g","title":"q","titleX":-43,"titleY":56}}}},
  {"data":{"name":"gs"},"mark":{"type":"line","color":"#D95319","strokeWidth":1,"clip":true},
   "encoding":{"x":{"field":"t","type":"quantitative","scale":{"domain":[0,2500],"nice":false},"axis":{"values":[0,500,1000,1500,2000,2500],"format":"d","title":null}},
    "y":{"field":"v","type":"quantitative","scale":{"domain":[0.6826,0.7251],"nice":false,"zero":false},"axis":null}}},
  {"data":{"name":"ip"},"transform":[{"filter":"false"}],"mark":"point",
   "encoding":{"x":{"field":"t","type":"quantitative","scale":{"domain":[0,2500],"nice":false},"axis":{"values":[0,500,1000,1500,2000,2500],"format":"d","title":null}},
    "y":{"field":"s","type":"quantitative","scale":{"domain":[0.6826,0.7251],"nice":false,"zero":false},"axis":{"orient":"left","domain":false,"ticks":false,"labels":false,"grid":false,"title":"s","titleFontSize":10.5,"titleX":-40,"titleY":48}}}},
  {"data":{"name":"ip"},"transform":[{"filter":"false"}],"mark":"point",
   "encoding":{"x":{"field":"t","type":"quantitative","scale":{"domain":[0,2500],"nice":false},"axis":{"values":[0,500,1000,1500,2000,2500],"format":"d","title":null}},
    "y":{"field":"s","type":"quantitative","scale":{"domain":[0.6826,0.7251],"nice":false,"zero":false},"axis":{"orient":"left","domain":false,"ticks":false,"labels":false,"grid":false,"title":"[-]","titleX":-43,"titleY":39}}}}
 ],
 "resolve":{"axis":{"y":"independent"}}},
{"width":540,"height":82,
 "layer":[
  {"data":{"name":"ip"},"mark":{"type":"line","color":"#0072BD","strokeWidth":1,"clip":true},
   "encoding":{"x":{"field":"t","type":"quantitative","scale":{"domain":[0,2500],"nice":false},"axis":{"values":[0,500,1000,1500,2000,2500],"format":"d","title":null}},
    "y":{"field":"x","type":"quantitative","scale":{"domain":[-0.04,0.0093],"nice":false,"zero":false},"axis":{"orient":"left","values":[-0.04,-0.02,0],"format":"~g","title":"q","titleX":-43,"titleY":56}}}},
  {"data":{"name":"gx"},"mark":{"type":"line","color":"#D95319","strokeWidth":1,"clip":true},
   "encoding":{"x":{"field":"t","type":"quantitative","scale":{"domain":[0,2500],"nice":false},"axis":{"values":[0,500,1000,1500,2000,2500],"format":"d","title":null}},
    "y":{"field":"v","type":"quantitative","scale":{"domain":[-0.04,0.0093],"nice":false,"zero":false},"axis":null}}},
  {"data":{"name":"ip"},"transform":[{"filter":"false"}],"mark":"point",
   "encoding":{"x":{"field":"t","type":"quantitative","scale":{"domain":[0,2500],"nice":false},"axis":{"values":[0,500,1000,1500,2000,2500],"format":"d","title":null}},
    "y":{"field":"x","type":"quantitative","scale":{"domain":[-0.04,0.0093],"nice":false,"zero":false},"axis":{"orient":"left","domain":false,"ticks":false,"labels":false,"grid":false,"title":"x","titleFontSize":10.5,"titleX":-40,"titleY":48}}}},
  {"data":{"name":"ip"},"transform":[{"filter":"false"}],"mark":"point",
   "encoding":{"x":{"field":"t","type":"quantitative","scale":{"domain":[0,2500],"nice":false},"axis":{"values":[0,500,1000,1500,2000,2500],"format":"d","title":null}},
    "y":{"field":"x","type":"quantitative","scale":{"domain":[-0.04,0.0093],"nice":false,"zero":false},"axis":{"orient":"left","domain":false,"ticks":false,"labels":false,"grid":false,"title":"[-]","titleX":-43,"titleY":39}}}}
 ],
 "resolve":{"axis":{"y":"independent"}}},
{"width":540,"height":82,
 "layer":[
  {"data":{"name":"ip"},"mark":{"type":"line","color":"#0072BD","strokeWidth":1,"clip":true},
   "encoding":{"x":{"field":"t","type":"quantitative","scale":{"domain":[0,2500],"nice":false},"axis":{"values":[0,500,1000,1500,2000,2500],"format":"d","title":null}},
    "y":{"field":"y","type":"quantitative","scale":{"domain":[-0.7304,-0.6873],"nice":false,"zero":false},"axis":{"orient":"left","values":[-0.72,-0.7],"format":"~g","title":"q","titleX":-43,"titleY":56}}}},
  {"data":{"name":"gy"},"mark":{"type":"line","color":"#D95319","strokeWidth":1,"clip":true},
   "encoding":{"x":{"field":"t","type":"quantitative","scale":{"domain":[0,2500],"nice":false},"axis":{"values":[0,500,1000,1500,2000,2500],"format":"d","title":null}},
    "y":{"field":"v","type":"quantitative","scale":{"domain":[-0.7304,-0.6873],"nice":false,"zero":false},"axis":null}}},
  {"data":{"name":"ip"},"transform":[{"filter":"false"}],"mark":"point",
   "encoding":{"x":{"field":"t","type":"quantitative","scale":{"domain":[0,2500],"nice":false},"axis":{"values":[0,500,1000,1500,2000,2500],"format":"d","title":null}},
    "y":{"field":"y","type":"quantitative","scale":{"domain":[-0.7304,-0.6873],"nice":false,"zero":false},"axis":{"orient":"left","domain":false,"ticks":false,"labels":false,"grid":false,"title":"y","titleFontSize":10.5,"titleX":-40,"titleY":48}}}},
  {"data":{"name":"ip"},"transform":[{"filter":"false"}],"mark":"point",
   "encoding":{"x":{"field":"t","type":"quantitative","scale":{"domain":[0,2500],"nice":false},"axis":{"values":[0,500,1000,1500,2000,2500],"format":"d","title":null}},
    "y":{"field":"y","type":"quantitative","scale":{"domain":[-0.7304,-0.6873],"nice":false,"zero":false},"axis":{"orient":"left","domain":false,"ticks":false,"labels":false,"grid":false,"title":"[-]","titleX":-43,"titleY":39}}}}
 ],
 "resolve":{"axis":{"y":"independent"}}},
{"width":540,"height":82,
 "layer":[
  {"data":{"name":"ip"},"mark":{"type":"line","strokeWidth":1,"clip":true},
   "encoding":{"x":{"field":"t","type":"quantitative","scale":{"domain":[0,2500],"nice":false},"axis":{"values":[0,500,1000,1500,2000,2500],"format":"d","title":"Time [sec]","titleBaseline":"alphabetic","titleY":36}},
    "y":{"field":"z","type":"quantitative","scale":{"domain":[-0.0079,0.0414],"nice":false,"zero":false},"axis":{"orient":"left","values":[0,0.02,0.04],"format":"~g","title":"q","titleX":-43,"titleY":56}},
    "color":{"datum":"IP output","type":"nominal","scale":{"domain":["IP output","Ground truth"],"range":["#0072BD","#D95319"]},
     "legend":{"orient":"none","legendX":13,"legendY":8,"title":null,"symbolType":"stroke","symbolSize":2209,"symbolStrokeWidth":1,"clipHeight":15,"rowPadding":2,"padding":3,"symbolOffset":3,"labelOffset":8.6,"labelFontSize":12,"labelColor":"#262626","fillColor":"#ffffff","strokeColor":"#262626","cornerRadius":0}}}},
  {"data":{"name":"gz"},"mark":{"type":"line","strokeWidth":1,"clip":true},
   "encoding":{"x":{"field":"t","type":"quantitative","scale":{"domain":[0,2500],"nice":false},"axis":{"values":[0,500,1000,1500,2000,2500],"format":"d","title":"Time [sec]","titleBaseline":"alphabetic","titleY":36}},
    "y":{"field":"v","type":"quantitative","scale":{"domain":[-0.0079,0.0414],"nice":false,"zero":false},"axis":null},
    "color":{"datum":"Ground truth","type":"nominal"}}},
  {"data":{"name":"ip"},"transform":[{"filter":"false"}],"mark":"point",
   "encoding":{"x":{"field":"t","type":"quantitative","scale":{"domain":[0,2500],"nice":false},"axis":{"values":[0,500,1000,1500,2000,2500],"format":"d","title":"Time [sec]","titleBaseline":"alphabetic","titleY":36}},
    "y":{"field":"z","type":"quantitative","scale":{"domain":[-0.0079,0.0414],"nice":false,"zero":false},"axis":{"orient":"left","domain":false,"ticks":false,"labels":false,"grid":false,"title":"z","titleFontSize":10.5,"titleX":-40,"titleY":48}}}},
  {"data":{"name":"ip"},"transform":[{"filter":"false"}],"mark":"point",
   "encoding":{"x":{"field":"t","type":"quantitative","scale":{"domain":[0,2500],"nice":false},"axis":{"values":[0,500,1000,1500,2000,2500],"format":"d","title":"Time [sec]","titleBaseline":"alphabetic","titleY":36}},
    "y":{"field":"z","type":"quantitative","scale":{"domain":[-0.0079,0.0414],"nice":false,"zero":false},"axis":{"orient":"left","domain":false,"ticks":false,"labels":false,"grid":false,"title":"[-]","titleX":-43,"titleY":39}}}}
 ],
 "resolve":{"axis":{"y":"independent"}}}
],"spacing":33,"bounds":"flush","resolve":{"scale":{"color":"independent"},"legend":{"color":"independent"}}},
{"vconcat":[
{"width":538,"height":112,
 "title":{"text":"Δ IP output vs Ground Truth Euler Angles"},
 "layer":[
  {"data":{"name":"eu"},"mark":{"type":"line","color":"#0072BD","strokeWidth":1,"clip":true},
   "encoding":{"x":{"field":"t","type":"quantitative","scale":{"domain":[0,2500],"nice":false},"axis":{"values":[0,500,1000,1500,2000,2500],"format":"d","title":null}},
    "y":{"field":"z","type":"quantitative","scale":{"domain":[-2,1.19],"nice":false,"zero":false},"axis":{"orient":"left","values":[-2,-1,0,1],"format":"~g","title":"ROT","titleX":-33,"titleY":105.6}}}},
  {"data":{"name":"eu"},"transform":[{"filter":"false"}],"mark":"point",
   "encoding":{"x":{"field":"t","type":"quantitative","scale":{"domain":[0,2500],"nice":false},"axis":{"values":[0,500,1000,1500,2000,2500],"format":"d","title":null}},
    "y":{"field":"z","type":"quantitative","scale":{"domain":[-2,1.19],"nice":false,"zero":false},"axis":{"orient":"left","domain":false,"ticks":false,"labels":false,"grid":false,"title":"Z-CAM","titleFontSize":10.5,"titleX":-29,"titleY":75.4}}}},
  {"data":{"name":"eu"},"transform":[{"filter":"false"}],"mark":"point",
   "encoding":{"x":{"field":"t","type":"quantitative","scale":{"domain":[0,2500],"nice":false},"axis":{"values":[0,500,1000,1500,2000,2500],"format":"d","title":null}},
    "y":{"field":"z","type":"quantitative","scale":{"domain":[-2,1.19],"nice":false,"zero":false},"axis":{"orient":"left","domain":false,"ticks":false,"labels":false,"grid":false,"title":"[deg]","titleX":-33,"titleY":38.2}}}}
 ],
 "resolve":{"axis":{"y":"independent"}}},
{"width":538,"height":112,
 "layer":[
  {"data":{"name":"eu"},"mark":{"type":"line","color":"#0072BD","strokeWidth":1,"clip":true},
   "encoding":{"x":{"field":"t","type":"quantitative","scale":{"domain":[0,2500],"nice":false},"axis":{"values":[0,500,1000,1500,2000,2500],"format":"d","title":null}},
    "y":{"field":"y","type":"quantitative","scale":{"domain":[-2,2],"nice":false,"zero":false},"axis":{"orient":"left","values":[-2,0,2],"format":"~g","title":"ROT","titleX":-33,"titleY":105.6}}}},
  {"data":{"name":"eu"},"transform":[{"filter":"false"}],"mark":"point",
   "encoding":{"x":{"field":"t","type":"quantitative","scale":{"domain":[0,2500],"nice":false},"axis":{"values":[0,500,1000,1500,2000,2500],"format":"d","title":null}},
    "y":{"field":"y","type":"quantitative","scale":{"domain":[-2,2],"nice":false,"zero":false},"axis":{"orient":"left","domain":false,"ticks":false,"labels":false,"grid":false,"title":"Y-CAM","titleFontSize":10.5,"titleX":-29,"titleY":75.4}}}},
  {"data":{"name":"eu"},"transform":[{"filter":"false"}],"mark":"point",
   "encoding":{"x":{"field":"t","type":"quantitative","scale":{"domain":[0,2500],"nice":false},"axis":{"values":[0,500,1000,1500,2000,2500],"format":"d","title":null}},
    "y":{"field":"y","type":"quantitative","scale":{"domain":[-2,2],"nice":false,"zero":false},"axis":{"orient":"left","domain":false,"ticks":false,"labels":false,"grid":false,"title":"[deg]","titleX":-33,"titleY":38.2}}}}
 ],
 "resolve":{"axis":{"y":"independent"}}},
{"width":538,"height":112,
 "layer":[
  {"data":{"name":"eu"},"mark":{"type":"line","color":"#0072BD","strokeWidth":1,"clip":true},
   "encoding":{"x":{"field":"t","type":"quantitative","scale":{"domain":[0,2500],"nice":false},"axis":{"values":[0,500,1000,1500,2000,2500],"format":"d","title":"Time [sec]","titleBaseline":"alphabetic","titleY":36}},
    "y":{"field":"x","type":"quantitative","scale":{"domain":[-0.5,0.654],"nice":false,"zero":false},"axis":{"orient":"left","values":[-0.5,0,0.5],"format":"~g","title":"ROT","titleX":-43,"titleY":105.6}}}},
  {"data":{"name":"eu"},"transform":[{"filter":"false"}],"mark":"point",
   "encoding":{"x":{"field":"t","type":"quantitative","scale":{"domain":[0,2500],"nice":false},"axis":{"values":[0,500,1000,1500,2000,2500],"format":"d","title":"Time [sec]","titleBaseline":"alphabetic","titleY":36}},
    "y":{"field":"x","type":"quantitative","scale":{"domain":[-0.5,0.654],"nice":false,"zero":false},"axis":{"orient":"left","domain":false,"ticks":false,"labels":false,"grid":false,"title":"X-CAM","titleFontSize":10.5,"titleX":-39,"titleY":75.4}}}},
  {"data":{"name":"eu"},"transform":[{"filter":"false"}],"mark":"point",
   "encoding":{"x":{"field":"t","type":"quantitative","scale":{"domain":[0,2500],"nice":false},"axis":{"values":[0,500,1000,1500,2000,2500],"format":"d","title":"Time [sec]","titleBaseline":"alphabetic","titleY":36}},
    "y":{"field":"x","type":"quantitative","scale":{"domain":[-0.5,0.654],"nice":false,"zero":false},"axis":{"orient":"left","domain":false,"ticks":false,"labels":false,"grid":false,"title":"[deg]","titleX":-43,"titleY":38.2}}}}
 ],
 "resolve":{"axis":{"y":"independent"}}}
],"spacing":44,"bounds":"flush"}
],
"spacing":34,
"resolve":{"scale":{"color":"independent"},"legend":{"color":"independent"}},
"config":{
 "font":"Liberation Sans",
 "view":{"stroke":null},
 "locale":{"number":{"decimal":".","thousands":",","grouping":[3],"currency":["$",""],"minus":"-"}},
 "axis":{"grid":true,"gridColor":"#e3e3e3","domainColor":"#4d4d4d","tickColor":"#4d4d4d","tickSize":-4,"labelFontSize":12.5,"labelColor":"#262626","labelFont":"Liberation Sans","titleFont":"Liberation Sans","titleFontSize":14.3,"titleFontWeight":"normal","titleColor":"#262626","labelOverlap":false},
 "axisX":{"labelPadding":9,"labelFlush":false},
 "axisY":{"labelPadding":8,"titleAlign":"left","titleBaseline":"alphabetic","titleAngle":-90},
 "title":{"font":"Liberation Sans","fontSize":14,"fontWeight":"bold","color":"#000000","offset":4},
 "legend":{"labelFont":"Liberation Sans"}
}
}
